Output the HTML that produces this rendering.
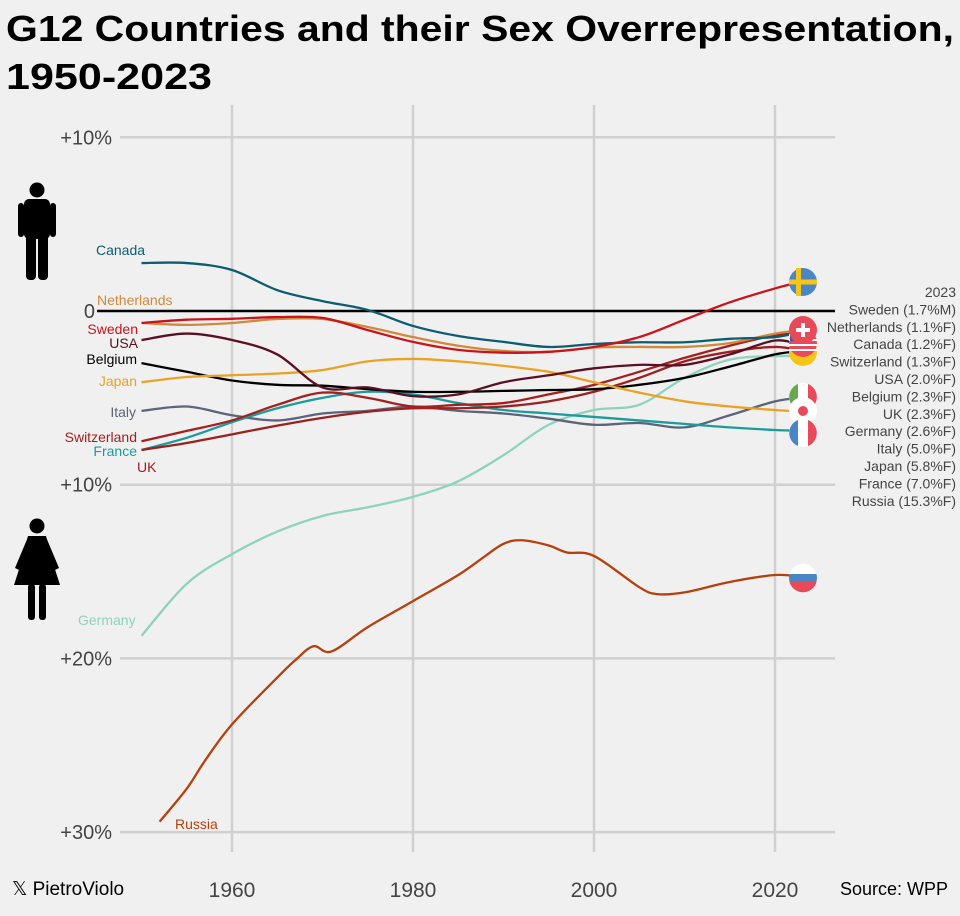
<!DOCTYPE html>
<html><head><meta charset="utf-8"><style>
body{margin:0;background:#f0f0f0;}
svg{display:block;font-family:"Liberation Sans",sans-serif;}
</style></head><body>
<svg id="chart" width="960" height="916" viewBox="0 0 960 916">
<rect width="960" height="916" fill="#f0f0f0"/>
<text x="6" y="41" font-size="36" font-weight="bold" fill="#000" textLength="948" lengthAdjust="spacingAndGlyphs">G12 Countries and their Sex Overrepresentation,</text>
<text x="6" y="89" font-size="36" font-weight="bold" fill="#000" textLength="206" lengthAdjust="spacingAndGlyphs">1950-2023</text>
<g id="grid"></g>
<g id="lines"></g>
<g id="labels"></g>
<g>
<circle cx="37" cy="190" r="7.5" fill="#000"/>
<rect x="24" y="199" width="26" height="40" rx="5" fill="#000"/>
<rect x="18" y="203" width="6" height="34" rx="3" fill="#000"/>
<rect x="50" y="203" width="6" height="34" rx="3" fill="#000"/>
<rect x="26" y="232" width="10" height="48" rx="4" fill="#000"/>
<rect x="38" y="232" width="10" height="48" rx="4" fill="#000"/>
</g>
<g>
<circle cx="37" cy="526" r="7.5" fill="#000"/>
<path d="M28 536 L46 536 L52 560 L60 585 L14 585 L22 560 Z" fill="#000"/>
<path d="M28 537 L15 568 L19 570 L30 545 Z M46 537 L59 568 L55 570 L44 545 Z" fill="#000"/>
<rect x="28" y="584" width="7" height="36" rx="3" fill="#000"/>
<rect x="39" y="584" width="7" height="36" rx="3" fill="#000"/>
</g>
<g id="flags"></g>
<g id="legend"></g>
<text x="12" y="895" font-size="19" fill="#000">𝕏 PietroViolo</text>
<text x="948" y="895" font-size="18" fill="#000" text-anchor="end">Source: WPP</text>
</svg>
<script>
const years = [1950,1955,1960,1965,1970,1975,1980,1985,1990,1995,2000,2005,2010,2015,2020,2023];
const countries = ["Canada","Netherlands","Sweden","USA","Belgium","Japan","Italy","Switzerland","France","UK","Germany","Russia"];
const canada = [2.76,2.76,2.36,1.2,0.57,0.06,-0.86,-1.44,-1.78,-2.07,-1.9,-1.8,-1.8,-1.6,-1.5,-1.2];
const netherlands = [-0.69,-0.8,-0.69,-0.46,-0.46,-0.92,-1.5,-2.0,-2.3,-2.35,-2.1,-2.07,-2.07,-1.85,-1.3,-1.1];
const sweden = [-0.69,-0.5,-0.45,-0.35,-0.4,-1.1,-1.78,-2.24,-2.4,-2.35,-2.07,-1.5,-0.5,0.5,1.3,1.7];
const usa = [-1.67,-1.3,-1.67,-2.5,-4.4,-4.4,-4.9,-4.8,-4.1,-3.7,-3.3,-3.1,-3.1,-2.5,-1.7,-2.0];
const belgium = [-3.0,-3.5,-4.0,-4.25,-4.3,-4.5,-4.65,-4.65,-4.6,-4.55,-4.5,-4.25,-3.85,-3.2,-2.5,-2.3];
const japan = [-4.1,-3.8,-3.7,-3.6,-3.4,-2.9,-2.76,-2.9,-3.16,-3.5,-4.1,-4.7,-5.2,-5.5,-5.7,-5.8];
const italy = [-5.75,-5.5,-6.0,-6.3,-5.9,-5.75,-5.5,-5.75,-5.9,-6.2,-6.55,-6.45,-6.7,-6.0,-5.2,-5.0];
const switzerland = [-7.5,-6.9,-6.3,-5.4,-4.7,-5.0,-5.5,-5.4,-5.3,-4.8,-4.25,-3.5,-2.7,-2.0,-1.4,-1.3];
const france = [-8.0,-7.3,-6.4,-5.6,-5.0,-4.65,-4.8,-5.3,-5.7,-5.9,-6.1,-6.3,-6.5,-6.7,-6.85,-6.9];
const uk = [-8.0,-7.6,-7.1,-6.6,-6.15,-5.8,-5.6,-5.6,-5.5,-5.2,-4.65,-3.85,-2.9,-2.35,-2.07,-2.3];
const germany = [-18.7,-15.7,-14.0,-12.7,-11.8,-11.3,-10.7,-9.8,-8.3,-6.55,-5.7,-5.4,-3.85,-2.8,-2.6,-2.6];
const russiaYears = [1952,1955,1957,1960,1965,1967,1969,1971,1975,1980,1985,1988,1990,1992,1995,1997,2000,2005,2007,2010,2015,2020,2023];
const russia = [-29.4,-27.5,-25.9,-23.8,-21.1,-20.1,-19.3,-19.6,-18.2,-16.7,-15.2,-14.1,-13.4,-13.2,-13.5,-13.9,-14.1,-15.9,-16.3,-16.2,-15.6,-15.2,-15.3];
const yTicks = [10,0,-10,-20,-30];
const yTickLabels = ["+10%","0","+10%","+20%","+30%"];
const xTicks = [1960,1980,2000,2020];
const legendLines = ["2023","Sweden (1.7%M)","Netherlands (1.1%F)","Canada (1.2%F)","Switzerland (1.3%F)","USA (2.0%F)","Belgium (2.3%F)","UK (2.3%F)","Germany (2.6%F)","Italy (5.0%F)","Japan (5.8%F)","France (7.0%F)","Russia (15.3%F)"];

const colors = ["#0d5c70","#cf8a3c","#c8141a","#5a0f22","#000000","#e9a224","#5b6478","#a3201f","#1c9b9b","#9c2020","#8ed3bb","#b5400d"];
const labelPos = [[96,255,"start"],[97,305,"start"],[138,334,"end"],[138,348,"end"],[137,364,"end"],[137,386,"end"],[136,445,"end"],[137,442,"end"],[137,456,"end"],[137,472,"start"],[78,625,"start"],[175,829,"start"]];
labelPos[6]=[136,417,"end"];
const series = [canada,netherlands,sweden,usa,belgium,japan,italy,switzerland,france,uk,germany,russia];
const seriesYears = [years,years,years,years,years,years,years,years,years,years,years,russiaYears];

const x = yr => 141.5 + (yr-1950)*9.05;
const y = v => 311 - v*17.37;
const NS = "http://www.w3.org/2000/svg";
function mk(tag, attrs, parent){const e=document.createElementNS(NS,tag);for(const k in attrs)e.setAttribute(k,attrs[k]);parent.appendChild(e);return e;}

const grid = document.getElementById('grid');
xTicks.forEach(t=>{
  const l = mk('line',{x1:x(t),x2:x(t),y1:105,y2:852,stroke:'#d0d0d0','stroke-width':2.5},grid);
  
  
  const tx = mk('text',{x:x(t),y:897,'font-size':21,fill:'#444','text-anchor':'middle'},grid);
  tx.textContent = t;
  
  
});
yTicks.forEach((t,i)=>{
  if(t!==0){
    const l = mk('line',{x1:120,x2:835,y1:y(t),y2:y(t),stroke:'#d0d0d0','stroke-width':2.5},grid);
    
    
  }
  const tx = mk('text',{x:112,y:y(t)+7,'font-size':20,fill:'#444','text-anchor':'end'},grid);
  if(t===0){tx.setAttribute('x',95);}
  tx.textContent = yTickLabels[i];
  
  
});
const zl = mk('line',{x1:97,x2:835,y1:y(0),y2:y(0),stroke:'#000','stroke-width':2.5},grid);



function smooth(pts){
  let d='M'+pts[0][0]+' '+pts[0][1];
  for(let i=0;i<pts.length-1;i++){
    const p0=pts[i-1]||pts[i],p1=pts[i],p2=pts[i+1],p3=pts[i+2]||p2;
    const c1=[p1[0]+(p2[0]-p0[0])/6,p1[1]+(p2[1]-p0[1])/6];
    const c2=[p2[0]-(p3[0]-p1[0])/6,p2[1]-(p3[1]-p1[1])/6];
    d+=` C${c1[0]} ${c1[1]} ${c2[0]} ${c2[1]} ${p2[0]} ${p2[1]}`;
  }
  return d;
}
const lines = document.getElementById('lines');
const labels = document.getElementById('labels');
const order=[10,11,6,8,9,7,4,5,3,1,0,2];
order.forEach(i=>{
  const pts = series[i].map((v,j)=>[x(seriesYears[i][j]),y(v)]);
  const p = mk('path',{d:smooth(pts),fill:'none',stroke:colors[i],'stroke-width':2.3,'stroke-linejoin':'round'},lines);
  
  
});
countries.forEach((c,i)=>{
  const lp=labelPos[i];
  const t = mk('text',{x:lp[0],y:lp[1],'font-size':14,fill:colors[i],'text-anchor':lp[2]},labels);
  if(i===4) t.setAttribute('fill','#000');
  t.textContent = c;
  
  
});

const flags = document.getElementById('flags');
function flag(cy, name, build){
  const g = mk('g',{},flags);
  
  
  build(g,cy);
}
flag(282,'sweden',(g,cy)=>{mk('circle',{cx:803,cy,r:14,fill:'#4a86c5'},g);mk('rect',{x:796,y:cy-14,width:5,height:28,fill:'#f5c518'},g);mk('rect',{x:789,y:cy-2.5,width:28,height:5,fill:'#f5c518'},g);});
flag(352,'uk',(g,cy)=>{mk('circle',{cx:803,cy,r:14,fill:'#f5c518'},g);});
flag(343,'usa',(g,cy)=>{mk('circle',{cx:803,cy,r:14,fill:'#e94a5a'},g);for(let k=0;k<4;k++)mk('rect',{x:789,y:cy-9+k*5,width:28,height:2,fill:'#fff'},g);mk('rect',{x:790,y:cy-10,width:10,height:8,fill:'#3a5ea8'},g);});
flag(330,'switzerland',(g,cy)=>{mk('circle',{cx:803,cy,r:14,fill:'#e94a5a'},g);mk('rect',{x:801,y:cy-7,width:4,height:14,fill:'#fff'},g);mk('rect',{x:796,y:cy-2,width:14,height:4,fill:'#fff'},g);});
flag(397,'italy',(g,cy)=>{mk('circle',{cx:803,cy,r:14,fill:'#fff'},g);mk('path',{d:`M798 ${cy-13} A14 14 0 0 0 798 ${cy+13} Z`,fill:'#6aa84f'},g);mk('path',{d:`M808 ${cy-13} A14 14 0 0 1 808 ${cy+13} Z`,fill:'#e94a5a'},g);});
flag(411,'japan',(g,cy)=>{mk('circle',{cx:803,cy,r:14,fill:'#fff'},g);mk('circle',{cx:803,cy,r:5,fill:'#e94a5a'},g);});
flag(433,'france',(g,cy)=>{mk('circle',{cx:803,cy,r:14,fill:'#fff'},g);mk('path',{d:`M798 ${cy-13} A14 14 0 0 0 798 ${cy+13} Z`,fill:'#4a86c5'},g);mk('path',{d:`M808 ${cy-13} A14 14 0 0 1 808 ${cy+13} Z`,fill:'#e94a5a'},g);});
flag(578,'russia',(g,cy)=>{mk('circle',{cx:803,cy,r:14,fill:'#4a86c5'},g);mk('path',{d:`M789.5 ${cy-4} A14 14 0 0 1 816.5 ${cy-4} Z`,fill:'#fff'},g);mk('path',{d:`M789.5 ${cy+4} A14 14 0 0 0 816.5 ${cy+4} Z`,fill:'#e94a5a'},g);});

const legend = document.getElementById('legend');
legendLines.forEach((s,i)=>{
  const t = mk('text',{x:956,y:297+i*17.4,'font-size':14,fill:'#444','text-anchor':'end'},legend);
  t.textContent = s;
  
  
});
</script>
</body></html>
